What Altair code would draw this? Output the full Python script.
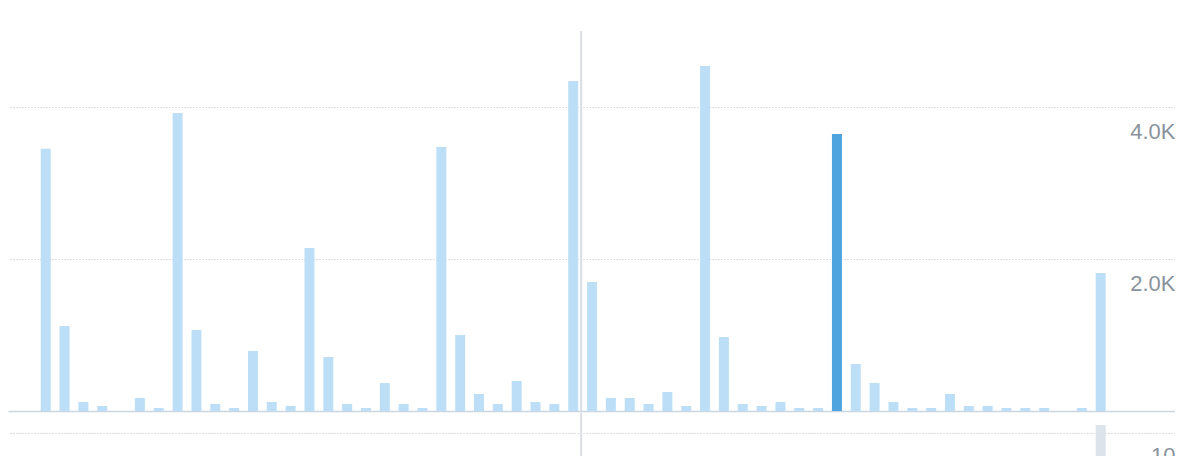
import altair as alt
import pandas as pd

# Daily values (top panel)
values = [3450, 1120, 118, 66, 0, 171, 40, 3921, 1066, 92, 40, 790, 118, 66,
          2145, 711, 92, 40, 368, 92, 40, 3474, 1000, 224, 92, 395, 118, 92,
          4342, 1697, 171, 171, 92, 250, 66, 4539, 974, 92, 66, 118, 40, 40,
          3645, 618, 368, 118, 40, 40, 224, 66, 66, 40, 40, 40, 0, 40, 1816]
days = list(range(len(values)))
highlight_day = 42
marker_day = [28.42]

# Lower panel
lower_days = [56]
lower_values = [11]

top_ticks = [2000, 4000]
lower_ticks = [10]

df = pd.DataFrame({"day": days, "value": values})
df["hl"] = ["yes" if d == highlight_day else "no" for d in days]
lower_df = pd.DataFrame({"day": lower_days, "value": lower_values})
marker_df = pd.DataFrame({"day": marker_day})

W = 1167
xscale = alt.Scale(domain=[-1.737, 59.68], nice=False, zero=False)
label_color = "#8a939d"
grid_color = "#b4bec9"

top_bars = alt.Chart(df).mark_bar(size=10).encode(
    x=alt.X("day:Q", scale=xscale,
            axis=alt.Axis(labels=False, ticks=False, grid=False, title=None,
                          domainColor="#ccd6e0", domainWidth=1.5,
                          minExtent=0, maxExtent=0, offset=0)),
    y=alt.Y("value:Q", scale=alt.Scale(domain=[0, 5000], nice=False),
            axis=alt.Axis(orient="right", values=top_ticks, ticks=False, domain=False,
                          title=None, labelAlign="right", labelPadding=0, labelOffset=24,
                          labelBaseline="middle",
                          labelExpr="format(datum.value/1000, '.1f') + 'K'",
                          labelColor=label_color, labelFontSize=22,
                          labelFont="Liberation Sans",
                          gridColor=grid_color, gridDash=[1, 2], gridWidth=1)),
    color=alt.Color("hl:N", scale=alt.Scale(domain=["no", "yes"],
                                            range=["#bcdff7", "#4ea4de"]),
                    legend=None),
)
top_rule = alt.Chart(marker_df).mark_rule(color="#d9dde3", strokeWidth=2).encode(
    x=alt.X("day:Q", scale=xscale)
)
top = alt.layer(top_rule, top_bars).properties(width=W, height=380)

low_bars = alt.Chart(lower_df).mark_bar(size=10, color="#dde3ea").encode(
    x=alt.X("day:Q", scale=xscale, axis=None),
    y=alt.Y("value:Q", scale=alt.Scale(domain=[0, 12.5], nice=False),
            axis=alt.Axis(orient="right", values=lower_ticks, ticks=False, domain=False,
                          title=None, labelAlign="right", labelPadding=0, labelOffset=22,
                          labelBaseline="middle",
                          labelColor=label_color, labelFontSize=22,
                          labelFont="Liberation Sans",
                          gridColor=grid_color, gridDash=[1, 2], gridWidth=1)),
)
low_rule = alt.Chart(marker_df).mark_rule(color="#d9dde3", strokeWidth=2).encode(
    x=alt.X("day:Q", scale=xscale, axis=None)
)
low = alt.layer(low_rule, low_bars).properties(width=W, height=100)

chart = alt.vconcat(top, low, spacing=0).properties(
    padding={"left": 0, "top": 22, "right": 0, "bottom": 0}
).configure(background="white").configure_view(stroke=None)

chart.save("out.html", embed_options={"renderer": "svg", "actions": False})
